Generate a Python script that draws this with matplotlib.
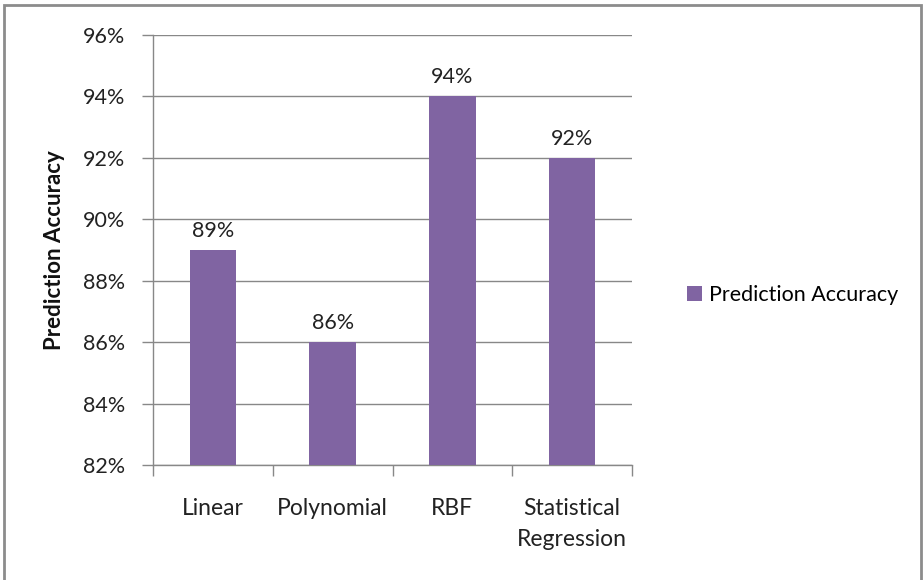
import matplotlib.pyplot as plt
import matplotlib.patches as patches
from matplotlib.ticker import FuncFormatter

categories = ['Linear', 'Polynomial', 'RBF', 'Statistical\nRegression']
accuracy = [89, 86, 94, 92]
y_ticks = [82, 84, 86, 88, 90, 92, 94, 96]
series_name = 'Prediction Accuracy'

bar_color = '#8064A2'
grid_color = '#888888'
text_color = '#222222'

plt.rcParams['font.family'] = ['Lato', 'DejaVu Sans']

W, H = 924, 580
fig = plt.figure(figsize=(W / 100, H / 100), dpi=100)
# plot area in pixel coords: x 153..632, y 35..465
ax = fig.add_axes([153 / W, 1 - 465 / H, (632 - 153) / W, (465 - 35) / H])

x = range(len(categories))
ax.bar(x, accuracy, width=0.39, color=bar_color, zorder=3, label=series_name)
for xi, v in zip(x, accuracy):
    ax.text(xi, v + 0.3, f'{v}%', ha='center', va='bottom', fontsize=15.5, color=text_color)

ax.set_ylim(82, 96)
ax.set_xlim(-0.5, len(categories) - 0.5)
ax.set_yticks(y_ticks)
ax.yaxis.set_major_formatter(FuncFormatter(lambda v, p: f'{v:.0f}%'))
ax.grid(axis='y', color=grid_color, linewidth=1, zorder=0)

# category separators as tick marks on the x axis
ax.set_xticks([i - 0.5 for i in range(len(categories) + 1)], minor=False)
ax.set_xticklabels([])
ax.set_xticks(list(x), minor=True)
ax.set_xticklabels(categories, minor=True, fontsize=16.5, color=text_color, linespacing=1.55)
ax.tick_params(axis='x', which='major', length=8, color=grid_color, width=1)
ax.tick_params(axis='x', which='minor', length=0, pad=24)
ax.tick_params(axis='y', length=8, color=grid_color, width=1, labelsize=15.5,
               labelcolor=text_color, pad=12)

for side in ['top', 'right']:
    ax.spines[side].set_visible(False)
for side in ['left', 'bottom']:
    ax.spines[side].set_color(grid_color)
    ax.spines[side].set_linewidth(1)

ax.set_ylabel(series_name, fontsize=16, fontweight='bold', labelpad=13, color='#111111')

fig.legend(handles=ax.patches[:1], labels=[series_name], loc='center left',
           bbox_to_anchor=(668 / W, 1 - 295 / H), frameon=False, fontsize=15.5,
           handlelength=0.7, handleheight=0.7, handletextpad=0.3)

# outer chart frame
fig.patches.append(patches.Rectangle((4 / W, -0.01), (921 - 4) / W, 1 - 5 / H + 0.01,
                                     transform=fig.transFigure, fill=False,
                                     edgecolor='#8c8c8c', linewidth=2))

fig.savefig('out.png', dpi=100)
